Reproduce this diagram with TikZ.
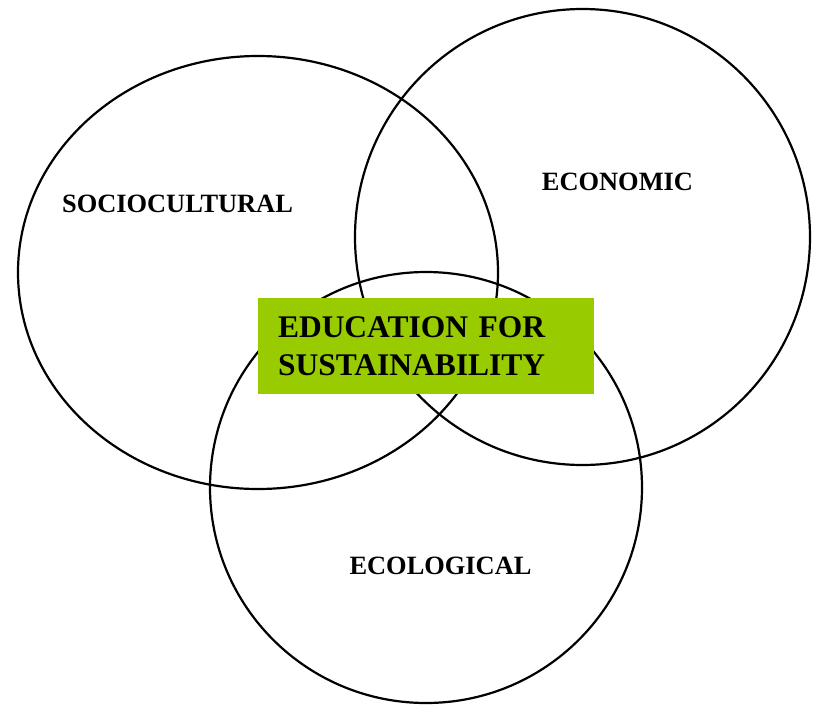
\documentclass[tikz,border=0pt]{standalone}
\usepackage{fontspec}
\setmainfont{Liberation Serif}
\usetikzlibrary{shapes.geometric}
\definecolor{edugreen}{RGB}{153,204,0}
\tikzset{
  ring/.style={draw=black, line width=2.2pt},
  circlabel/.style={font=\fontsize{26.4}{31}\selectfont\bfseries, anchor=base, inner sep=0pt},
  edubox/.style={fill=edugreen, draw=none, minimum width=336pt, minimum height=96pt,
    inner xsep=20pt, inner ysep=0pt, text width=296pt, align=left,
    font=\fontsize{31.5}{38}\selectfont\bfseries}
}
\begin{document}
\begin{tikzpicture}[x=1pt,y=-1pt]
  \useasboundingbox (0,0) rectangle (815,705);
  \draw[ring] (258,272.5) ellipse [x radius=240pt, y radius=216.5pt];
  \draw[ring] (582.5,237) ellipse [x radius=227.5pt, y radius=228pt];
  \draw[ring] (426,487.5) ellipse [x radius=216pt, y radius=215.5pt];
  \node[circlabel] (socio) at (177.5,212) {SOCIOCULTURAL};
  \node[circlabel] (econ) at (617.5,190) {ECONOMIC};
  \node[circlabel] (ecol) at (440.5,574) {ECOLOGICAL};
  \node[edubox] (edu) at (426,346) {EDUCATION FOR\\SUSTAINABILITY};
\end{tikzpicture}
\end{document}
